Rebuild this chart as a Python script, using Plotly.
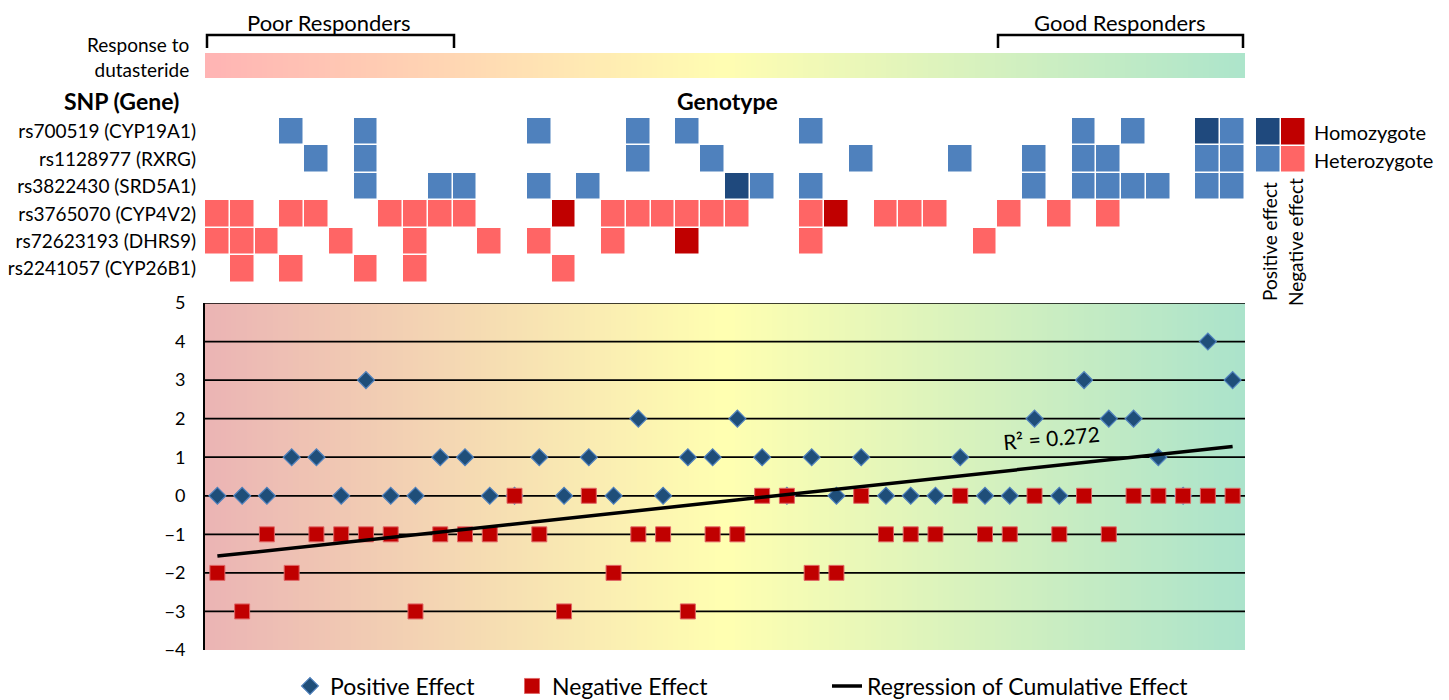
import numpy as np
import plotly.graph_objects as go

W, H = 1449, 700
OFF = 8  # page body margin of the exported html
FONT = "Lato"

# ---------------- data ----------------
patients = list(range(1, 43))

snp_labels = ["rs700519 (CYP19A1)", "rs1128977 (RXRG)", "rs3822430 (SRD5A1)",
              "rs3765070 (CYP4V2)", "rs72623193 (DHRS9)", "rs2241057 (CYP26B1)"]

# genotype effect per patient: 1 het positive, 2 hom positive, -1 het negative, -2 hom negative, 0 none
rs700519 = [0,0,0,1,0,0,1,0,0,0, 0,0,0,1,0,0,0,1,0,1, 0,0,0,0,1,0,0,0,0,0, 0,0,0,0,0,1,0,1,0,0, 2,1]
rs1128977 = [0,0,0,0,1,0,1,0,0,0, 0,0,0,0,0,0,0,1,0,0, 1,0,0,0,0,0,1,0,0,0, 1,0,0,1,0,1,1,0,0,0, 1,1]
rs3822430 = [0,0,0,0,0,0,1,0,0,1, 1,0,0,1,0,1,0,0,0,0, 0,2,1,0,1,0,0,0,0,0, 0,0,0,1,0,1,1,1,1,0, 1,1]
rs3765070 = [-1,-1,0,-1,-1,0,0,-1,-1,-1, -1,0,0,0,-2,0,-1,-1,-1,-1, -1,-1,0,0,-1,-2,0,-1,-1,-1, 0,0,-1,0,-1,0,-1,0,0,0, 0,0]
rs72623193 = [-1,-1,-1,0,0,-1,0,0,-1,0, 0,-1,0,-1,0,0,-1,0,0,-2, 0,0,0,0,-1,0,0,0,0,0, 0,-1,0,0,0,0,0,0,0,0, 0,0]
rs2241057 = [0,-1,0,-1,0,0,-1,0,-1,0, 0,0,0,0,-1,0,0,0,0,0, 0,0,0,0,0,0,0,0,0,0, 0,0,0,0,0,0,0,0,0,0, 0,0]

positive_effect = [0,0,0,1,1,0,3,0,0,1, 1,0,0,1,0,1,0,2,0,1, 1,2,1,0,1,0,1,0,0,0, 1,0,0,2,0,3,2,2,1,0, 4,3]
negative_effect = [-2,-3,-1,-2,-1,-1,-1,-1,-3,-1, -1,-1,0,-1,-3,0,-2,-1,-1,-3, -1,-1,0,0,-2,-2,0,-1,-1,-1, 0,-1,-1,0,-1,0,-1,0,0,0, 0,0]

y_ticks = [-4, -3, -2, -1, 0, 1, 2, 3, 4, 5]
grid_values = [-3, -2, -1, 0, 1, 2, 3, 4, 5]

legend_z = [[2, -2], [1, -1]]

# ---------------- helpers ----------------
def px(x):
    return (x - OFF) / W

def py(y):
    return 1 - (y - OFF) / H

geno_colors = [[0.0, "#C00000"], [0.125, "#C00000"], [0.125, "#FF6565"], [0.375, "#FF6565"],
               [0.375, "#FFFFFF"], [0.625, "#FFFFFF"], [0.625, "#4F81BD"], [0.875, "#4F81BD"],
               [0.875, "#1F497D"], [1.0, "#1F497D"]]

geno_rows = [rs700519, rs1128977, rs3822430, rs3765070, rs72623193, rs2241057]
geno_z = [[v if v != 0 else None for v in row] for row in geno_rows]

cumulative = np.array(positive_effect) + np.array(negative_effect)
xs = np.array(patients, dtype=float)
slope, intercept = np.polyfit(xs, cumulative, 1)
fit = slope * xs + intercept
r2 = 1 - np.sum((cumulative - fit) ** 2) / np.sum((cumulative - cumulative.mean()) ** 2)

fig = go.Figure()

# background gradient of the scatter panel (decoration)
nb = 200
fig.add_trace(go.Heatmap(
    z=[list(np.linspace(0, 1, nb))], x=list(np.linspace(0.5, 42.5, nb + 1)), y=[-4, 5],
    colorscale=[[0, "#EBB4B4"], [0.5, "#FFFFB1"], [1, "#ABE3CB"]],
    showscale=False, hoverinfo="skip", xaxis="x", yaxis="y"))

# gridlines
gx, gy = [], []
for g in grid_values:
    gx += [0.5, 42.5, None]
    gy += [g, g, None]
fig.add_trace(go.Scatter(x=gx, y=gy, mode="lines", line=dict(color="black", width=1.7),
                         showlegend=False, hoverinfo="skip", xaxis="x", yaxis="y"))

fig.add_trace(go.Scatter(
    x=patients, y=positive_effect, mode="markers", name="Positive Effect",
    marker=dict(symbol="diamond", size=13, color="#1F4E79", line=dict(color="#4F81BD", width=1.2)),
    legend="legend", xaxis="x", yaxis="y"))
fig.add_trace(go.Scatter(
    x=patients, y=negative_effect, mode="markers", name="Negative Effect",
    marker=dict(symbol="square", size=15, color="#C00000", line=dict(color="#E06666", width=1)),
    legend="legend2", xaxis="x", yaxis="y"))
fig.add_trace(go.Scatter(
    x=[patients[0], patients[-1]], y=[fit[0], fit[-1]], mode="lines",
    name="Regression of Cumulative Effect", line=dict(color="black", width=3.5),
    legend="legend3", xaxis="x", yaxis="y"))

# genotype heatmap
fig.add_trace(go.Heatmap(
    z=geno_z, x=patients, y=list(range(len(snp_labels))), zmin=-2, zmax=2,
    colorscale=geno_colors, showscale=False, xgap=1.5, ygap=1.5, hoverinfo="skip",
    xaxis="x2", yaxis="y2"))

# response bar (decoration)
fig.add_trace(go.Heatmap(
    z=[list(np.linspace(0, 1, nb))], x=list(np.linspace(0.5, 42.5, nb + 1)), y=[0, 1],
    colorscale=[[0, "#FFB4B4"], [0.5, "#FFFDB2"], [1, "#ADE5CB"]],
    showscale=False, hoverinfo="skip", xaxis="x3", yaxis="y3"))

# genotype legend squares
fig.add_trace(go.Heatmap(
    z=legend_z, x=[0, 1], y=[0, 1], zmin=-2, zmax=2, colorscale=geno_colors,
    showscale=False, xgap=1.5, ygap=1.5, hoverinfo="skip", xaxis="x4", yaxis="y4"))

xdom = [px(205), px(1245)]
hidden = dict(visible=False, fixedrange=True)

annotations = [
    dict(text="Poor Responders", x=px(328), y=py(22), font=dict(size=22)),
    dict(text="Good Responders", x=px(1120), y=py(22), font=dict(size=22)),
    dict(text="Response to<br>dutasteride", x=px(191), y=py(57), xanchor="right", align="right",
         font=dict(size=19)),
    dict(text="<b>SNP (Gene)</b>", x=px(62), y=py(101), xanchor="left", font=dict(size=23)),
    dict(text="<b>Genotype</b>", x=px(727), y=py(101), font=dict(size=23)),
    dict(text="Homozygote", x=px(1312), y=py(132), xanchor="left", font=dict(size=20)),
    dict(text="Heterozygote", x=px(1312), y=py(160), xanchor="left", font=dict(size=20)),
    dict(text="Positive effect", x=px(1269), y=py(242), textangle=-90, font=dict(size=19)),
    dict(text="Negative effect", x=px(1295), y=py(242), textangle=-90, font=dict(size=19)),
]
for a in annotations:
    a.setdefault("xref", "paper")
    a.setdefault("yref", "paper")
    a["showarrow"] = False
    a["font"]["family"] = FONT
    a["font"]["color"] = "black"
    a.setdefault("yanchor", "middle")
    a.setdefault("xanchor", "center")

annotations.append(dict(text=f"R\u00b2 = {r2:.3f}", x=34.7, y=1.5, xref="x", yref="y",
                        textangle=-5, showarrow=False, font=dict(size=21, family=FONT, color="black")))

def bracket(x0, x1):
    return dict(type="path", xref="paper", yref="paper",
                path=f"M {px(x0)},{py(48)} L {px(x0)},{py(35)} L {px(x1)},{py(35)} L {px(x1)},{py(48)}",
                line=dict(color="black", width=2.5))

legend_common = dict(orientation="h", yanchor="middle", xanchor="left", bgcolor="rgba(0,0,0,0)",
                     font=dict(size=23, family=FONT, color="black"))

fig.update_layout(
    width=W, height=H, margin=dict(l=0, r=0, t=0, b=0, autoexpand=False),
    paper_bgcolor="white", plot_bgcolor="rgba(0,0,0,0)",
    font=dict(family=FONT, color="black"),
    xaxis=dict(domain=xdom, range=[0.5, 42.5], showgrid=False, zeroline=False,
               showticklabels=False, showline=False),
    yaxis=dict(domain=[py(650), py(303)], range=[-4, 5], tickvals=y_ticks, showgrid=False,
               zeroline=False, showline=True, linecolor="black", linewidth=2,
               ticks="", ticklabelstandoff=14, tickfont=dict(size=18, family=FONT, color="black")),
    xaxis2=dict(domain=xdom, range=[0.5, 42.5], **hidden),
    yaxis2=dict(domain=[py(282.5), py(118)], range=[5.5, -0.5], tickvals=list(range(len(snp_labels))),
                ticktext=snp_labels, showgrid=False, zeroline=False, showline=False, ticks="",
                ticklabelstandoff=8, tickfont=dict(size=19, family=FONT, color="black")),
    xaxis3=dict(domain=xdom, range=[0.5, 42.5], **hidden),
    yaxis3=dict(domain=[py(78), py(53)], range=[0, 1], **hidden),
    xaxis4=dict(domain=[px(1256), px(1305.5)], range=[-0.5, 1.5], **hidden),
    yaxis4=dict(domain=[py(173), py(118)], range=[-0.5, 1.5], autorange="reversed", **hidden),
    annotations=annotations,
    shapes=[bracket(207, 454), bracket(998, 1243)],
    legend=dict(x=px(290), y=py(686), **legend_common),
    legend2=dict(x=px(512), y=py(686), **legend_common),
    legend3=dict(x=px(827), y=py(686), **legend_common),
)

fig.write_html("out.html")
